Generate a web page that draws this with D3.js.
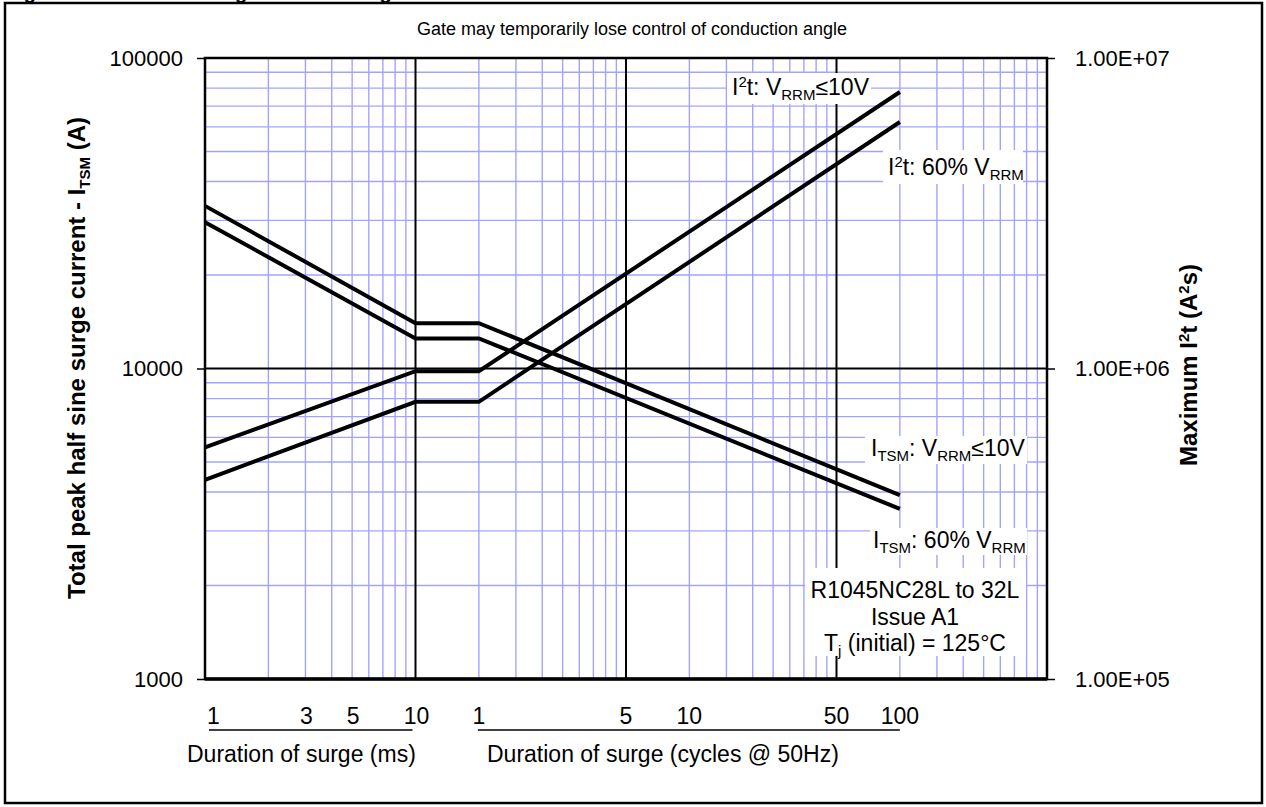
<!DOCTYPE html>
<html>
<head>
<meta charset="utf-8">
<script src="https://cdn.jsdelivr.net/npm/d3@7"></script>
<style>
  body { margin: 0; background: #fff; }
  svg { display: block; font-family: "Liberation Sans", Arial, sans-serif; }
</style>
</head>
<body>
<div class="chart"></div>
<script>
// surge duration in ms (1 cycle @ 50Hz = 20 ms)
var durationMs = [1, 10, 20, 2000];
var itsm10V = [33400, 14000, 14000, 3910];
var itsm60 = [29600, 12500, 12500, 3530];
var i2t10V = [557000, 980000, 980000, 7770000];
var i2t60 = [438000, 781000, 781000, 6220000];

var leftTicks = [1000, 10000, 100000];
var rightTicks = [1e5, 1e6, 1e7];
var msLabels = [1, 3, 5, 10];
var cycleLabels = [1, 5, 10, 50, 100];

var svgWidth = 1266;
var svgHeight = 807;

var margin = { top: 58, right: 219, bottom: 128, left: 205 };
var chartWidth = svgWidth - margin.left - margin.right;
var chartHeight = svgHeight - margin.top - margin.bottom;

var svg = d3.select(".chart")
    .append("svg")
    .attr("width", svgWidth)
    .attr("height", svgHeight);

// outer frame
svg.append("rect")
    .attr("x", 5).attr("y", 3)
    .attr("width", 1257).attr("height", 800)
    .attr("fill", "none").attr("stroke", "#000").attr("stroke-width", 2.5);

// figure caption, cut off at the top edge like in the source
svg.append("text")
    .attr("x", 6).attr("y", -1)
    .attr("font-size", 20).attr("font-weight", "bold")
    .text("Figure 8 – Maximum surge and I²t Ratings");

svg.append("text")
    .attr("x", 632).attr("y", 35)
    .attr("text-anchor", "middle")
    .attr("font-size", 18)
    .text("Gate may temporarily lose control of conduction angle");

var chartGroup = svg.append("g")
    .attr("transform", `translate(${margin.left}, ${margin.top})`);

var xLogScale = d3.scaleLog()
    .domain([1, 10000])
    .range([0, chartWidth]);

var yLeftScale = d3.scaleLog()
    .domain([1000, 100000])
    .range([chartHeight, 0]);

var yRightScale = d3.scaleLog()
    .domain([1e5, 1e7])
    .range([chartHeight, 0]);

// grid values
var xMinor = [], xMajor = [10, 100, 1000];
[1, 10, 100, 1000].forEach(function(p) {
    for (var m = 2; m <= 9; m++) xMinor.push(m * p);
});
var yMinor = [], yMajor = [10000];
[1000, 10000].forEach(function(p) {
    for (var m = 2; m <= 9; m++) yMinor.push(m * p);
});

var gridColor = "#a3a3ff";

chartGroup.selectAll(".vminor")
    .data(xMinor)
    .enter()
    .append("line")
    .attr("x1", d => xLogScale(d)).attr("x2", d => xLogScale(d))
    .attr("y1", 0).attr("y2", chartHeight)
    .attr("stroke", gridColor).attr("stroke-width", 1.4);

chartGroup.selectAll(".hminor")
    .data(yMinor)
    .enter()
    .append("line")
    .attr("x1", 0).attr("x2", chartWidth)
    .attr("y1", d => yLeftScale(d)).attr("y2", d => yLeftScale(d))
    .attr("stroke", gridColor).attr("stroke-width", 1.4);

// white boxes behind the text labels (they hide the grid)
var boxes = [
    [727, 73, 144, 31],
    [883, 150, 140, 34],
    [865, 436, 162, 28],
    [870, 528, 157, 27],
    [805, 568, 221, 88]
];
svg.selectAll(".lblbox")
    .data(boxes)
    .enter()
    .append("rect")
    .attr("x", d => d[0]).attr("y", d => d[1])
    .attr("width", d => d[2]).attr("height", d => d[3])
    .attr("fill", "#fff");

chartGroup.selectAll(".vmajor")
    .data(xMajor)
    .enter()
    .append("line")
    .attr("x1", d => xLogScale(d)).attr("x2", d => xLogScale(d))
    .attr("y1", 0).attr("y2", chartHeight)
    .attr("stroke", "#000").attr("stroke-width", 2);

chartGroup.selectAll(".hmajor")
    .data(yMajor)
    .enter()
    .append("line")
    .attr("x1", 0).attr("x2", chartWidth)
    .attr("y1", d => yLeftScale(d)).attr("y2", d => yLeftScale(d))
    .attr("stroke", "#000").attr("stroke-width", 2);

// plot border
chartGroup.append("rect")
    .attr("width", chartWidth).attr("height", chartHeight)
    .attr("fill", "none").attr("stroke", "#000").attr("stroke-width", 2.5);
chartGroup.append("line")
    .attr("x1", 0).attr("x2", chartWidth)
    .attr("y1", chartHeight).attr("y2", chartHeight)
    .attr("stroke", "#000").attr("stroke-width", 3.5);

// axes
var leftAxis = d3.axisLeft(yLeftScale)
    .tickValues(leftTicks)
    .tickFormat(d3.format("d"))
    .tickSize(8)
    .tickSizeOuter(0)
    .tickPadding(14);

var fmtE = function(v) {
    var e = Math.round(Math.log10(v));
    return (v / Math.pow(10, e)).toFixed(2) + "E+" + String(e).padStart(2, "0");
};

var rightAxis = d3.axisRight(yRightScale)
    .tickValues(rightTicks)
    .tickFormat(fmtE)
    .tickSize(8)
    .tickSizeOuter(0)
    .tickPadding(20);

var gl = chartGroup.append("g").call(leftAxis);
var gr = chartGroup.append("g")
    .attr("transform", `translate(${chartWidth}, 0)`)
    .call(rightAxis);

[gl, gr].forEach(function(g) {
    g.select(".domain").remove();
    g.selectAll("line").attr("stroke", "#000").attr("stroke-width", 1.5);
    g.selectAll("text")
        .attr("font-size", 22)
        .attr("font-family", "Liberation Sans, Arial, sans-serif")
        .attr("fill", "#000");
});

// series
var makeSeries = function(values) {
    return durationMs.map((t, i) => ({ t: t, v: values[i] }));
};

var leftLine = d3.line()
    .x(d => xLogScale(d.t))
    .y(d => yLeftScale(d.v));

var rightLine = d3.line()
    .x(d => xLogScale(d.t))
    .y(d => yRightScale(d.v));

[itsm10V, itsm60].forEach(function(s) {
    chartGroup.append("path")
        .datum(makeSeries(s))
        .attr("d", leftLine)
        .attr("fill", "none").attr("stroke", "#000")
        .attr("stroke-width", 4).attr("stroke-linejoin", "miter");
});

[i2t10V, i2t60].forEach(function(s) {
    chartGroup.append("path")
        .datum(makeSeries(s))
        .attr("d", rightLine)
        .attr("fill", "none").attr("stroke", "#000")
        .attr("stroke-width", 4).attr("stroke-linejoin", "miter");
});

// series labels with sub/superscripts
var addLabel = function(x, y, parts, anchor) {
    var t = svg.append("text")
        .attr("x", x).attr("y", y)
        .attr("font-size", 23)
        .attr("text-anchor", anchor || "start");
    parts.forEach(function(p) {
        var ts = t.append("tspan").text(p[0]);
        if (p[1] === "sub") ts.attr("font-size", 15).attr("dy", 5);
        if (p[1] === "sup") ts.attr("font-size", 15).attr("dy", -8);
        if (p[1] === "back") ts.attr("dy", -5);
        if (p[1] === "down") ts.attr("dy", 8);
    });
    return t;
};

addLabel(732, 95, [["I"], ["2", "sup"], ["t: V", "down"], ["RRM", "sub"], ["≤10V", "back"]]);
addLabel(888, 175, [["I"], ["2", "sup"], ["t: 60% V", "down"], ["RRM", "sub"]]);
addLabel(871, 456, [["I"], ["TSM", "sub"], [": V", "back"], ["RRM", "sub"], ["≤10V", "back"]]);
addLabel(873, 548, [["I"], ["TSM", "sub"], [": 60% V", "back"], ["RRM", "sub"]]);

addLabel(915, 598, [["R1045NC28L to 32L"]], "middle");
addLabel(915, 625, [["Issue A1"]], "middle");
addLabel(915, 651, [["T"], ["j", "sub"], [" (initial) = 125°C", "back"]], "middle");

// x labels, placed along the log duration scale
var xLabelY = 724;
svg.selectAll(".mslbl")
    .data(msLabels)
    .enter()
    .append("text")
    .attr("x", d => margin.left + xLogScale(d) + (d === 1 ? 2 : 1))
    .attr("y", xLabelY)
    .attr("text-anchor", d => d === 1 ? "start" : "middle")
    .attr("font-size", 23)
    .text(d => d);

svg.selectAll(".cyclbl")
    .data(cycleLabels)
    .enter()
    .append("text")
    .attr("x", d => margin.left + xLogScale(d * 20))
    .attr("y", xLabelY)
    .attr("text-anchor", "middle")
    .attr("font-size", 23)
    .text(d => d);

svg.append("line")
    .attr("x1", margin.left + xLogScale(1) + 4).attr("x2", margin.left + xLogScale(10) - 3)
    .attr("y1", 730).attr("y2", 730)
    .attr("stroke", "#000").attr("stroke-width", 1.6);
svg.append("line")
    .attr("x1", margin.left + xLogScale(20) - 1).attr("x2", margin.left + xLogScale(2000))
    .attr("y1", 730).attr("y2", 730)
    .attr("stroke", "#000").attr("stroke-width", 1.6);

svg.append("text")
    .attr("x", 187).attr("y", 762)
    .attr("font-size", 23)
    .text("Duration of surge (ms)");

svg.append("text")
    .attr("x", 487).attr("y", 762)
    .attr("font-size", 23)
    .text("Duration of surge (cycles @ 50Hz)");

// axis titles
var yTitle = svg.append("text")
    .attr("transform", "translate(85, 358) rotate(-90)")
    .attr("text-anchor", "middle")
    .attr("font-size", 24)
    .attr("font-weight", "bold");
yTitle.append("tspan").text("Total peak half sine surge current - I");
yTitle.append("tspan").attr("font-size", 15).attr("dy", 5).text("TSM");
yTitle.append("tspan").attr("dy", -5).text("  (A)");

var y2Title = svg.append("text")
    .attr("transform", "translate(1197, 365) rotate(-90)")
    .attr("text-anchor", "middle")
    .attr("font-size", 24)
    .attr("font-weight", "bold");
y2Title.append("tspan").text("Maximum I");
y2Title.append("tspan").attr("font-size", 15).attr("dy", -8).text("2");
y2Title.append("tspan").attr("dy", 8).text("t (A");
y2Title.append("tspan").attr("font-size", 15).attr("dy", -8).text("2");
y2Title.append("tspan").attr("dy", 8).text("s)");
</script>
</body>
</html>
